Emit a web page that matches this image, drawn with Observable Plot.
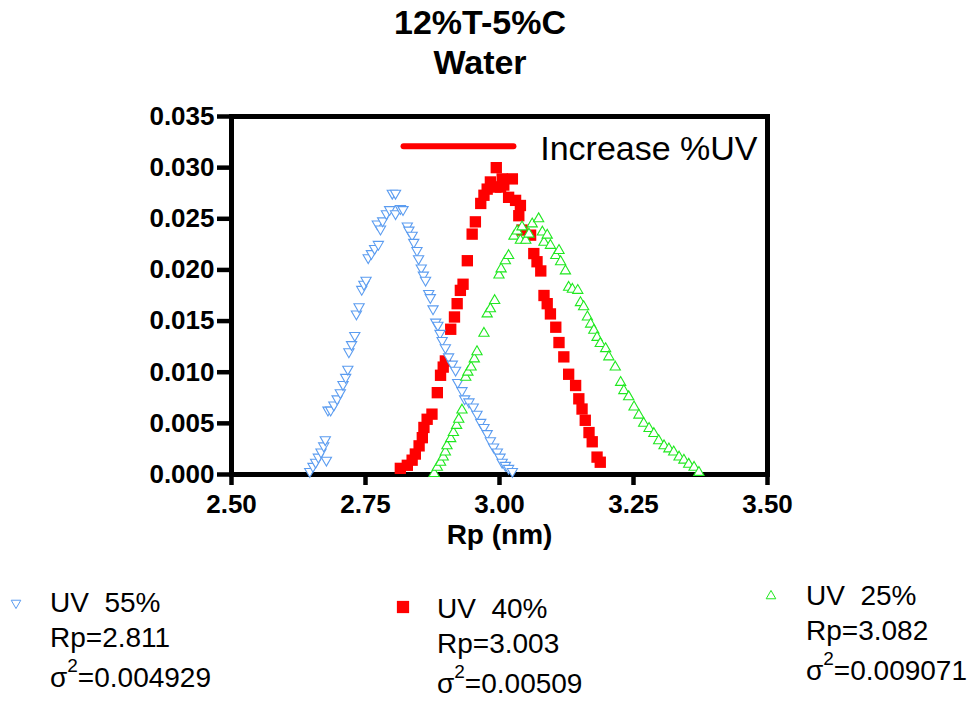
<!DOCTYPE html>
<html><head><meta charset="utf-8">
<script src="https://cdn.jsdelivr.net/npm/d3@7"></script>
<script src="https://cdn.jsdelivr.net/npm/@observablehq/plot@0.6"></script>
<style>
body{margin:0;background:#fff;}
#wrap{position:relative;width:978px;height:703px;overflow:hidden;font-family:"Liberation Sans",Arial,sans-serif;background:#fff;}
#wrap svg.plot{position:absolute;left:0;top:0;}
.t{position:absolute;white-space:pre;color:#000;line-height:40px;height:40px;}
.title{font-weight:bold;font-size:34px;width:978px;text-align:center;left:-9px;}
.lg{font-size:28px;}
.lg sup{font-size:19px;position:relative;top:-2px;vertical-align:top;line-height:20px;}
.sym{position:absolute;}
</style></head><body><div id="wrap"></div>
<script>
// ---- data ----
const titleLines = ["12%T-5%C", "Water"];
const xLabel = "Rp (nm)";
const xTicks = [2.50, 2.75, 3.00, 3.25, 3.50];
const yTicks = [0.000, 0.005, 0.010, 0.015, 0.020, 0.025, 0.030, 0.035];

// UV 55% (blue, inverted triangles)
const uv55 = [
  [2.646,0.0003],[2.652,0.0008],[2.657,0.0012],[2.662,0.0017],[2.667,0.0022],[2.672,0.0028],[2.675,0.0034],[2.677,0.0014],
  [2.680,0.0063],[2.685,0.0063],[2.691,0.0068],[2.697,0.0074],[2.703,0.0080],[2.708,0.0088],[2.713,0.0095],[2.717,0.0103],
  [2.719,0.0120],[2.724,0.0127],[2.730,0.0136],[2.733,0.0157],[2.738,0.0164],[2.743,0.0181],[2.747,0.0186],[2.751,0.0190],
  [2.755,0.0212],[2.761,0.0216],[2.767,0.0221],[2.774,0.0225],[2.772,0.0245],[2.778,0.0240],[2.782,0.0248],[2.789,0.0255],
  [2.795,0.0259],[2.800,0.0275],[2.806,0.0275],[2.806,0.0255],[2.815,0.0260],[2.820,0.0259],
  [2.828,0.0243],[2.831,0.0239],[2.837,0.0234],[2.840,0.0227],[2.846,0.0219],[2.849,0.0211],[2.854,0.0202],[2.858,0.0195],
  [2.862,0.0190],[2.868,0.0177],[2.871,0.0173],[2.876,0.0162],[2.881,0.0149],[2.885,0.0146],[2.889,0.0138],[2.893,0.0131],
  [2.899,0.0124],[2.905,0.0115],[2.912,0.0108],[2.918,0.0102],[2.922,0.0090],[2.930,0.0082],[2.935,0.0074],[2.943,0.0071],
  [2.951,0.0066],[2.958,0.0059],[2.965,0.0051],[2.971,0.0046],[2.977,0.0040],[2.983,0.0033],[2.989,0.0027],[2.996,0.0022],
  [3.001,0.0017],[3.005,0.0012],[3.011,0.0009],[3.017,0.0006],[3.024,0.0003]
];

// UV 40% (red, filled squares)
const uv40 = [
  [2.815,0.0006],[2.828,0.0009],[2.837,0.0014],[2.843,0.0020],[2.850,0.0028],[2.856,0.0036],[2.859,0.0046],[2.865,0.0054],
  [2.874,0.0059],[2.884,0.0080],[2.890,0.0097],[2.895,0.0105],[2.899,0.0111],[2.909,0.0142],[2.916,0.0154],[2.921,0.0167],
  [2.927,0.0180],[2.932,0.0186],[2.940,0.0209],[2.949,0.0235],[2.955,0.0247],[2.965,0.0265],[2.971,0.0273],[2.977,0.0279],
  [2.983,0.0286],[2.994,0.0300],[2.993,0.0281],[3.002,0.0281],[3.005,0.0289],[3.008,0.0283],[3.017,0.0271],[3.024,0.0289],
  [3.030,0.0268],[3.036,0.0253],[3.039,0.0263],[3.042,0.0239],[3.058,0.0234],[3.064,0.0216],[3.070,0.0208],[3.077,0.0199],
  [3.083,0.0175],[3.089,0.0167],[3.095,0.0157],[3.105,0.0144],[3.111,0.0129],[3.120,0.0115],[3.129,0.0098],[3.142,0.0087],
  [3.148,0.0074],[3.154,0.0064],[3.160,0.0053],[3.167,0.0041],[3.173,0.0032],[3.182,0.0017],[3.188,0.0012]
];

// UV 25% (green, triangles)
const uv25 = [
  [2.878,0.0001],[2.884,0.0007],[2.890,0.0012],[2.895,0.0017],[2.899,0.0022],[2.902,0.0028],[2.909,0.0035],[2.914,0.0041],
  [2.920,0.0048],[2.924,0.0054],[2.930,0.0063],[2.937,0.0095],[2.941,0.0100],[2.947,0.0105],[2.953,0.0113],[2.958,0.0120],
  [2.971,0.0138],[2.977,0.0157],[2.983,0.0162],[2.991,0.0170],[2.999,0.0195],[3.003,0.0201],[3.011,0.0209],[3.017,0.0214],
  [3.027,0.0233],[3.033,0.0238],[3.042,0.0242],[3.039,0.0229],[3.049,0.0229],[3.055,0.0235],[3.061,0.0245],[3.073,0.0250],
  [3.080,0.0237],[3.083,0.0227],[3.089,0.0234],[3.095,0.0224],[3.105,0.0214],[3.111,0.0219],[3.114,0.0208],[3.123,0.0199],
  [3.129,0.0183],[3.136,0.0181],[3.146,0.0180],[3.151,0.0168],[3.157,0.0164],[3.164,0.0154],[3.170,0.0147],[3.176,0.0141],
  [3.182,0.0134],[3.188,0.0128],[3.198,0.0123],[3.204,0.0115],[3.216,0.0105],[3.226,0.0090],[3.232,0.0082],[3.241,0.0076],
  [3.251,0.0066],[3.260,0.0058],[3.269,0.0050],[3.279,0.0045],[3.288,0.0040],[3.297,0.0033],[3.307,0.0028],[3.316,0.0025],
  [3.325,0.0022],[3.335,0.0017],[3.344,0.0014],[3.353,0.0010],[3.363,0.0007],[3.372,0.0002]
];

// annotation
const increaseLine = [[2.821,0.0321],[3.026,0.0321]];
const increaseLabel = [[3.076,0.0318,"Increase %UV"]];

// legend entries
const legendNames = ["UV  55%", "UV  40%", "UV  25%"];
const legendRp = ["Rp=2.811", "Rp=3.003", "Rp=3.082"];
const legendSigma2 = ["0.004929", "0.00509", "0.009071"];

// ---- styles ----
const BLUE = "#5b9cf0", RED = "#ff0000", GREEN = "#1fe81f";

const plot = Plot.plot({
  width: 978, height: 703,
  marginLeft: 231, marginRight: 211, marginTop: 116, marginBottom: 229,
  x: {domain: [2.5, 3.5]},
  y: {domain: [0, 0.035]},
  style: {fontFamily: "'Liberation Sans', Arial, sans-serif", background: "white", color: "black", overflow: "visible"},
  marks: [
    Plot.axisX({ticks: xTicks, tickFormat: d3.format(".2f"), tickSize: 11, tickPadding: 9, strokeWidth: 4.5, fontSize: 26, fontWeight: "bold", label: null}),
    Plot.axisY({ticks: yTicks, tickFormat: d3.format(".3f"), tickSize: 14, tickPadding: 3, strokeWidth: 4.5, fontSize: 26, fontWeight: "bold", label: null}),
    Plot.frame({strokeWidth: 5}),
    Plot.text([xLabel], {frameAnchor: "bottom", dy: 69, fontSize: 28, fontWeight: "bold", text: d => d}),
    Plot.line(increaseLine, {x: d => d[0], y: d => d[1], stroke: RED, strokeWidth: 6, strokeLinecap: "round"}),
    Plot.text(increaseLabel, {x: d => d[0], y: d => d[1], text: d => d[2], textAnchor: "start", fontSize: 34}),
    Plot.dot(uv40, {x: d => d[0], y: d => d[1], symbol: "square", r: 6.4, fill: RED, stroke: "none"}),
    Plot.dot(uv55, {x: d => d[0], y: d => d[1], symbol: "triangle", rotate: 180, r: 3.8, fill: "white", stroke: BLUE, strokeWidth: 1.1}),
    Plot.dot(uv25, {x: d => d[0], y: d => d[1], symbol: "triangle", r: 3.8, fill: "white", stroke: GREEN, strokeWidth: 1.1})
  ]
});
plot.classList.add("plot");
const wrap = document.getElementById("wrap");
wrap.appendChild(plot);

// title
const titleY = [22, 62];
titleLines.forEach((s, i) => {
  const d = document.createElement("div");
  d.className = "t title";
  d.style.top = (titleY[i] - 20) + "px";
  d.textContent = s;
  wrap.appendChild(d);
});

// legend
const cols = [
  {sx: 16, sy: 603, tx: 50, rows: [603, 638, 678], sym: "tri-down", color: BLUE},
  {sx: 403, sy: 607, tx: 437, rows: [609, 644, 684], sym: "square", color: RED},
  {sx: 771, sy: 596, tx: 806, rows: [596, 631, 671], sym: "tri-up", color: GREEN}
];
cols.forEach((c, i) => {
  const lines = [legendNames[i], legendRp[i], null];
  lines.forEach((s, j) => {
    const d = document.createElement("div");
    d.className = "t lg";
    d.style.left = c.tx + "px";
    d.style.top = (c.rows[j] - 20) + "px";
    if (s !== null) d.textContent = s;
    else d.innerHTML = "σ<sup>2</sup>=" + legendSigma2[i];
    wrap.appendChild(d);
  });
  const svg = d3.create("svg").attr("class", "sym").attr("width", 20).attr("height", 20)
    .style("left", (c.sx - 10) + "px").style("top", (c.sy - 10) + "px");
  if (c.sym === "square") {
    svg.append("path").attr("d", d3.symbol(d3.symbolSquare, 150)()).attr("transform", "translate(10,10)").attr("fill", c.color);
  } else {
    svg.append("path").attr("d", d3.symbol(d3.symbolTriangle, 40)())
      .attr("transform", "translate(10,10)" + (c.sym === "tri-down" ? " rotate(180)" : ""))
      .attr("fill", "white").attr("stroke", c.color).attr("stroke-width", 1);
  }
  wrap.appendChild(svg.node());
});
</script></body></html>
